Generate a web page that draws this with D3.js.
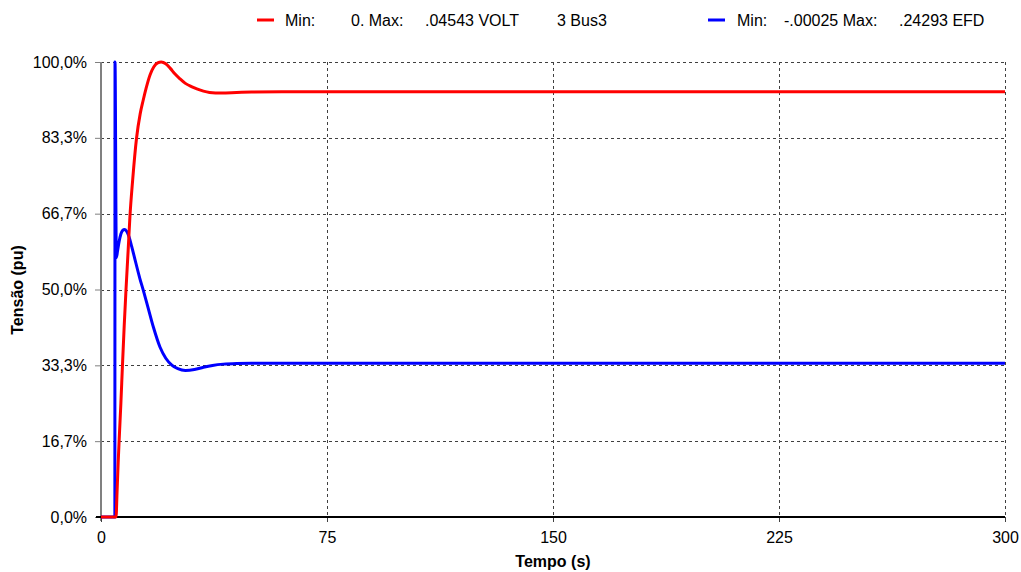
<!DOCTYPE html>
<html>
<head>
<meta charset="utf-8">
<script src="https://cdn.jsdelivr.net/npm/d3@7"></script>
<style>
  html, body { margin: 0; padding: 0; background: #ffffff; }
  svg { display: block; font-family: "Liberation Sans", Arial, sans-serif; }
</style>
</head>
<body>
<svg id="chart" width="1021" height="572"></svg>
<script>
// Bus 3 voltage (VOLT) and field voltage (EFD), each as % of its own maximum
const voltTime = [0, 5.0, 5.3, 5.7, 6.1, 6.6, 7.1, 7.7, 8.3, 9.0, 9.6, 10.5, 11.8, 13.0, 14.0, 15.0, 16.3, 17.5, 18.8, 20.0,
  21.5, 23.0, 24.5, 26.2, 28.0, 30.0, 31.8, 34.0, 36.0, 38.0, 40.0, 45.0, 50.0, 60.0, 300];
const voltPct = [0, 0, 5, 12, 18, 25, 33, 42, 50, 58.5, 66, 74, 83.3, 88.6, 91.6, 94.3, 97.2, 98.9, 99.8, 100,
  99.6, 98.6, 97.4, 96.3, 95.3, 94.6, 94.1, 93.6, 93.3, 93.2, 93.2, 93.3, 93.4, 93.45, 93.45];

const efdTime = [0, 4.6, 4.65, 5.1, 5.5, 6.0, 6.6, 7.2, 7.8, 8.5, 9.3, 10.2, 11.2, 12.3, 12.9, 14.0, 15.5, 17.4, 19.6,
  21.5, 23.5, 25.5, 28.0, 31.0, 34.0, 37.0, 40.6, 45.0, 50.0, 300];
const efdPct = [0, 0, 100, 57, 58.5, 60.5, 62.2, 63, 63.2, 62.8, 61.6, 59.4, 56.8, 53.9, 52.4, 49.9, 46.3, 41.7, 37.3,
  34.9, 33.4, 32.6, 32.2, 32.4, 32.9, 33.3, 33.6, 33.75, 33.8, 33.8];

const xTicks = [0, 75, 150, 225, 300];
const yTicks = [0, 100 / 6, 200 / 6, 50, 400 / 6, 500 / 6, 100];
const yTickLabels = ["0,0%", "16,7%", "33,3%", "50,0%", "66,7%", "83,3%", "100,0%"];

const legendItems = [
  { color: "#ff0000", parts: [["Min:", 285], ["0. Max:", 351], [".04543 VOLT", 425], ["3 Bus3", 557]], x0: 257, x1: 274 },
  { color: "#0000ff", parts: [["Min:", 737], ["-.00025 Max:", 784], [".24293 EFD", 899]], x0: 708, x1: 725 }
];

const svg = d3.select("#chart");
const plotLeft = 101, plotRight = 1005, plotTop = 62, plotBottom = 517;

const x = d3.scaleLinear().domain([0, 300]).range([plotLeft, plotRight]);
const y = d3.scaleLinear().domain([0, 100]).range([plotBottom, plotTop]);

// dashed grid
const grid = svg.append("g").attr("stroke", "#404040").attr("stroke-width", 1).attr("stroke-dasharray", "3,3");
grid.selectAll("line.h").data(yTicks.slice(1)).join("line")
  .attr("x1", plotLeft).attr("x2", plotRight)
  .attr("y1", d => Math.round(y(d)) + 0.5).attr("y2", d => Math.round(y(d)) + 0.5);
grid.selectAll("line.v").data(xTicks.slice(1)).join("line")
  .attr("x1", d => Math.round(x(d)) + 0.5).attr("x2", d => Math.round(x(d)) + 0.5)
  .attr("y1", plotTop).attr("y2", plotBottom);

// y axis
const yAxis = d3.axisLeft(y).tickValues(yTicks).tickFormat((d, i) => yTickLabels[i]).tickSize(6).tickPadding(8);
const gy = svg.append("g").attr("transform", `translate(${plotLeft},0)`).call(yAxis);
gy.select(".domain").remove();
gy.selectAll(".tick line").attr("stroke", "#808080");
gy.selectAll(".tick text").attr("font-size", 16).attr("font-family", "Liberation Sans, Arial, sans-serif").attr("fill", "#000");
svg.append("line").attr("x1", plotLeft).attr("x2", plotLeft).attr("y1", plotTop).attr("y2", plotBottom + 4)
  .attr("stroke", "#808080").attr("stroke-width", 2);

// x axis
const xAxis = d3.axisBottom(x).tickValues(xTicks).tickFormat(d3.format("d")).tickSize(5).tickPadding(10);
const gx = svg.append("g").attr("transform", `translate(0,${plotBottom})`).call(xAxis);
gx.select(".domain").remove();
gx.selectAll(".tick line").attr("stroke", "#404040");
gx.selectAll(".tick text").attr("font-size", 16).attr("font-family", "Liberation Sans, Arial, sans-serif").attr("fill", "#000");
svg.append("line").attr("x1", plotLeft - 5).attr("x2", plotRight).attr("y1", plotBottom).attr("y2", plotBottom)
  .attr("stroke", "#000").attr("stroke-width", 2);

// axis titles
svg.append("text").attr("x", (plotLeft + plotRight) / 2).attr("y", 567).attr("text-anchor", "middle")
  .attr("font-size", 16).attr("font-weight", "bold").text("Tempo (s)");
svg.append("text").attr("transform", "translate(23,290) rotate(-90)").attr("text-anchor", "middle")
  .attr("font-size", 16).attr("font-weight", "bold").text("Tensão (pu)");

// curves
const line = d3.line().x(d => x(d[0])).y(d => y(d[1])).curve(d3.curveMonotoneX);
const efdData = efdTime.map((t, i) => [t, efdPct[i]]);
const voltData = voltTime.map((t, i) => [t, voltPct[i]]);
svg.append("path").datum(efdData).attr("d", line)
  .attr("fill", "none").attr("stroke", "#0000ff").attr("stroke-width", 3).attr("stroke-linejoin", "round");
svg.append("path").datum(voltData).attr("d", line)
  .attr("fill", "none").attr("stroke", "#ff0000").attr("stroke-width", 3).attr("stroke-linejoin", "round");

// legend
const lg = svg.append("g");
legendItems.forEach(item => {
  lg.append("line").attr("x1", item.x0).attr("x2", item.x1).attr("y1", 20).attr("y2", 20)
    .attr("stroke", item.color).attr("stroke-width", 3);
  item.parts.forEach(([txt, px]) => {
    lg.append("text").attr("x", px).attr("y", 26).attr("font-size", 16).attr("fill", "#000").text(txt);
  });
});
</script>
</body>
</html>
